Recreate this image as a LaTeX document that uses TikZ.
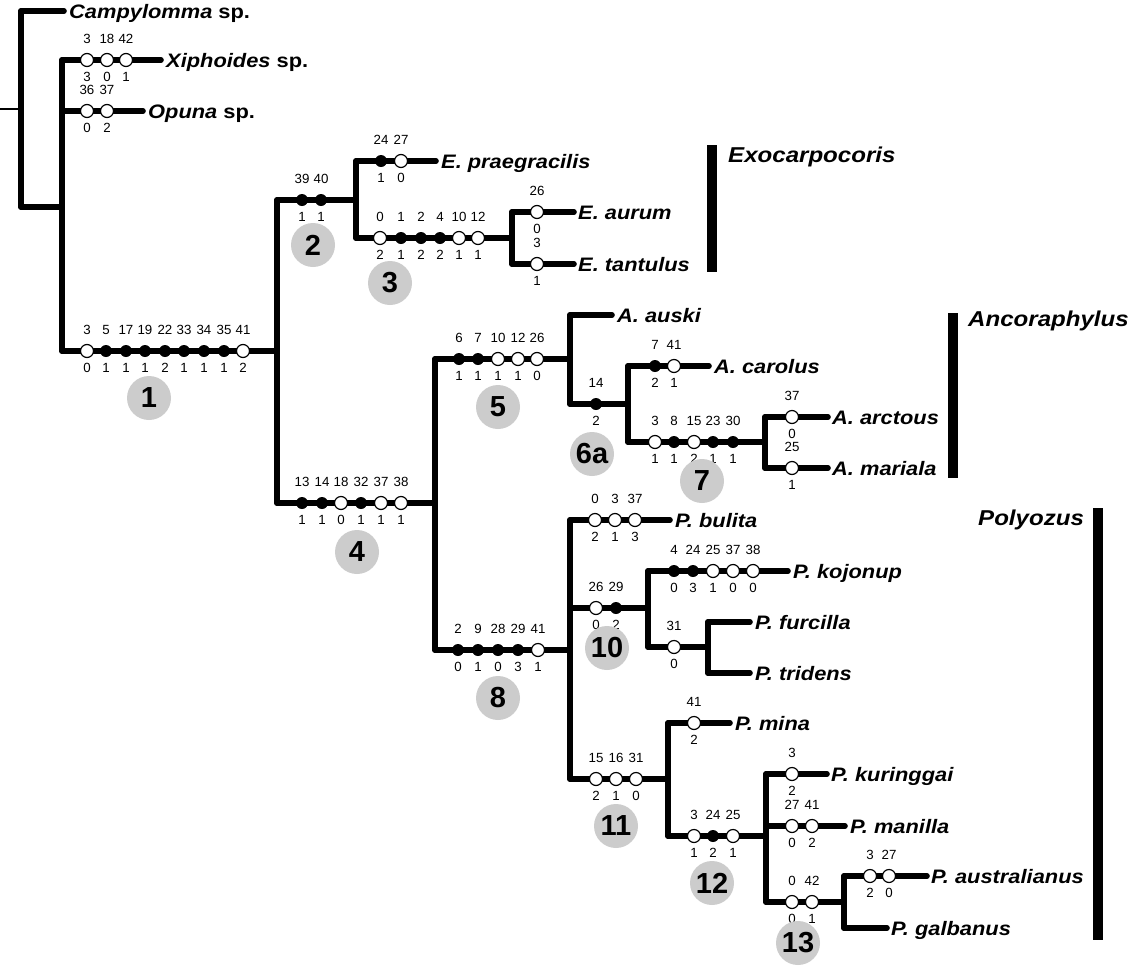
\documentclass[tikz,border=0pt]{standalone}
\usepackage{fontspec}
\setmainfont{Liberation Sans}
\newfontfamily\txf{Liberation Sans}[FakeStretch=1.12]
\newcommand{\charrow}[3]{%
  \foreach \cx/\ct/\ca/\cb [count=\ci] in {#3} {%
    \node[ch=\ct] (#1c\ci) at (\cx,#2) {};
    \node[num] (#1a\ci) at (\cx,#2-16.5) {\ca};
    \node[num] (#1b\ci) at (\cx,#2+21.5) {\cb};
  }}
\begin{document}
\begin{tikzpicture}[x=1pt,y=-1pt,
  br/.style={line width=5.6pt,line cap=round},
  oc/.style={circle,draw=black,fill=white,line width=1.2pt,minimum size=13pt,inner sep=0pt},
  fc/.style={circle,fill=black,minimum size=12pt,inner sep=0pt},
  ch/.code={\ifnum#1=1 \pgfkeysalso{fc}\else\pgfkeysalso{oc}\fi},
  num/.style={font=\fontsize{13.3}{14}\selectfont,anchor=base,inner sep=0pt},
  tax/.style={font=\txf\fontsize{19.5}{20}\selectfont\bfseries\itshape,anchor=base west,inner sep=0pt},
  grp/.style={font=\txf\fontsize{21.5}{22}\selectfont\bfseries\itshape,anchor=base west,inner sep=0pt},
  cl/.style={circle,fill=black!20,minimum size=44pt,inner sep=0pt,font=\fontsize{29}{29}\selectfont\bfseries},
  bar/.style={fill=black}]
\path[use as bounding box] (0,0) rectangle (1133,970);

% ---------- coordinates ----------
\coordinate (rootL) at (0,109);
\coordinate (r) at (21,109);
\coordinate (rT) at (21,11);
\coordinate (rB) at (21,207);
\coordinate (a) at (62,207);
\coordinate (aT) at (62,60);
\coordinate (aM) at (62,111);
\coordinate (aB) at (62,351);
\coordinate (n1) at (277,351);
\coordinate (n1T) at (277,200);
\coordinate (n1B) at (277,503);
\coordinate (n2) at (356,200);
\coordinate (n2T) at (356,161);
\coordinate (n2B) at (356,238);
\coordinate (n3) at (512,238);
\coordinate (n3T) at (512,212);
\coordinate (n3B) at (512,264);
\coordinate (n4) at (435,503);
\coordinate (n4T) at (435,359);
\coordinate (n4B) at (435,650);
\coordinate (n5) at (570,359);
\coordinate (n5T) at (570,315);
\coordinate (n5B) at (570,404);
\coordinate (n6) at (628,404);
\coordinate (n6T) at (628,366);
\coordinate (n6B) at (628,442);
\coordinate (n7) at (765,442);
\coordinate (n7T) at (765,417);
\coordinate (n7B) at (765,468);
\coordinate (n8) at (570,650);
\coordinate (n8T) at (570,520);
\coordinate (n8B) at (570,779);
\coordinate (n8M) at (570,608);
\coordinate (n10) at (648,608);
\coordinate (n10T) at (648,571);
\coordinate (n10B) at (648,647);
\coordinate (n9) at (708,647);
\coordinate (n9T) at (708,622);
\coordinate (n9B) at (708,673);
\coordinate (n11) at (668,779);
\coordinate (n11T) at (668,723);
\coordinate (n11B) at (668,836);
\coordinate (n12) at (766,836);
\coordinate (n12T) at (766,774);
\coordinate (n12M) at (766,826);
\coordinate (n12B) at (766,902);
\coordinate (n13) at (844,902);
\coordinate (n13T) at (844,876);
\coordinate (n13B) at (844,928);
% tips
\coordinate (tCam) at (64,11);
\coordinate (tXip) at (161,60);
\coordinate (tOpu) at (143,111);
\coordinate (tPra) at (436,161);
\coordinate (tAur) at (574,212);
\coordinate (tTan) at (574,264);
\coordinate (tAus) at (612,315);
\coordinate (tCar) at (709,366);
\coordinate (tArc) at (828,417);
\coordinate (tMar) at (828,468);
\coordinate (tBul) at (670,520);
\coordinate (tKoj) at (788,571);
\coordinate (tFur) at (750,622);
\coordinate (tTri) at (750,673);
\coordinate (tMin) at (730,723);
\coordinate (tKur) at (827,774);
\coordinate (tMan) at (845,826);
\coordinate (tAul) at (927,876);
\coordinate (tGal) at (887,928);

% ---------- branches ----------
\draw[line width=1.2pt] (rootL) -- (r);
\draw[br] (rT) -- (rB);
\draw[br] (rT) -- (tCam);
\draw[br] (rB) -- (a);
\draw[br] (aT) -- (aB);
\draw[br] (aT) -- (tXip);
\draw[br] (aM) -- (tOpu);
\draw[br] (aB) -- (n1);
\draw[br] (n1T) -- (n1B);
\draw[br] (n1T) -- (n2);
\draw[br] (n2T) -- (n2B);
\draw[br] (n2T) -- (tPra);
\draw[br] (n2B) -- (n3);
\draw[br] (n3T) -- (n3B);
\draw[br] (n3T) -- (tAur);
\draw[br] (n3B) -- (tTan);
\draw[br] (n1B) -- (n4);
\draw[br] (n4T) -- (n4B);
\draw[br] (n4T) -- (n5);
\draw[br] (n5T) -- (n5B);
\draw[br] (n5T) -- (tAus);
\draw[br] (n5B) -- (n6);
\draw[br] (n6T) -- (n6B);
\draw[br] (n6T) -- (tCar);
\draw[br] (n6B) -- (n7);
\draw[br] (n7T) -- (n7B);
\draw[br] (n7T) -- (tArc);
\draw[br] (n7B) -- (tMar);
\draw[br] (n4B) -- (n8);
\draw[br] (n8T) -- (n8B);
\draw[br] (n8T) -- (tBul);
\draw[br] (n8M) -- (n10);
\draw[br] (n10T) -- (n10B);
\draw[br] (n10T) -- (tKoj);
\draw[br] (n10B) -- (n9);
\draw[br] (n9T) -- (n9B);
\draw[br] (n9T) -- (tFur);
\draw[br] (n9B) -- (tTri);
\draw[br] (n8B) -- (n11);
\draw[br] (n11T) -- (n11B);
\draw[br] (n11T) -- (tMin);
\draw[br] (n11B) -- (n12);
\draw[br] (n12T) -- (n12B);
\draw[br] (n12T) -- (tKur);
\draw[br] (n12M) -- (tMan);
\draw[br] (n12B) -- (n13);
\draw[br] (n13T) -- (n13B);
\draw[br] (n13T) -- (tAul);
\draw[br] (n13B) -- (tGal);

% ---------- characters ----------
\charrow{xi}{60}{87/0/3/3, 107/0/18/0, 126/0/42/1}
\charrow{op}{111}{87/0/36/0, 107/0/37/2}
\charrow{ka}{351}{87/0/3/0, 106/1/5/1, 126/1/17/1, 145/1/19/1, 165/1/22/2, 184/1/33/1, 204/1/34/1, 224/1/35/1, 243/0/41/2}
\charrow{kb}{200}{302/1/39/1, 321/1/40/1}
\charrow{pr}{161}{381/1/24/1, 401/0/27/0}
\charrow{kc}{238}{380/0/0/2, 401/1/1/1, 421/1/2/2, 440/1/4/2, 459/0/10/1, 478/0/12/1}
\charrow{au}{212}{537/0/26/0}
\charrow{ta}{264}{537/0/3/1}
\charrow{kd}{503}{302/1/13/1, 322/1/14/1, 341/0/18/0, 361/1/32/1, 381/0/37/1, 401/0/38/1}
\charrow{ke}{359}{459/1/6/1, 478/1/7/1, 498/0/10/1, 518/0/12/1, 537/0/26/0}
\charrow{kf}{404}{596/1/14/2}
\charrow{ca}{366}{655/1/7/2, 674/0/41/1}
\charrow{kg}{442}{655/0/3/1, 674/1/8/1, 694/0/15/2, 713/1/23/1, 733/1/30/1}
\charrow{ar}{417}{792/0/37/0}
\charrow{ma}{468}{792/0/25/1}
\charrow{kh}{650}{458/1/2/0, 478/1/9/1, 498/1/28/0, 518/1/29/3, 538/0/41/1}
\charrow{bu}{520}{595/0/0/2, 615/0/3/1, 635/0/37/3}
\charrow{kj}{608}{596/0/26/0, 616/1/29/2}
\charrow{ko}{571}{674/1/4/0, 693/1/24/3, 713/0/25/1, 733/0/37/0, 753/0/38/0}
\charrow{fu}{647}{674/0/31/0}
\charrow{kk}{779}{596/0/15/2, 616/0/16/1, 636/0/31/0}
\charrow{mi}{723}{694/0/41/2}
\charrow{kl}{836}{694/0/3/1, 713/1/24/2, 733/0/25/1}
\charrow{ku}{774}{792/0/3/2}
\charrow{mn}{826}{792/0/27/0, 812/0/41/2}
\charrow{km}{902}{792/0/0/0, 812/0/42/1}
\charrow{al}{876}{870/0/3/2, 889/0/27/0}

% ---------- taxa ----------
\node[tax] (lCam) at (69,18) {Campylomma\upshape{} sp.};
\node[tax] (lXip) at (166,67) {Xiphoides\upshape{} sp.};
\node[tax] (lOpu) at (148,118) {Opuna\upshape{} sp.};
\node[tax] (lPra) at (441,168) {E. praegracilis};
\node[tax] (lAur) at (578,219) {E. aurum};
\node[tax] (lTan) at (578,271) {E. tantulus};
\node[tax] (lAus) at (617,322) {A. auski};
\node[tax] (lCar) at (714,373) {A. carolus};
\node[tax] (lArc) at (832,424) {A. arctous};
\node[tax] (lMar) at (832,475) {A. mariala};
\node[tax] (lBul) at (675,527) {P. bulita};
\node[tax] (lKoj) at (793,578) {P. kojonup};
\node[tax] (lFur) at (755,629) {P. furcilla};
\node[tax] (lTri) at (755,680) {P. tridens};
\node[tax] (lMin) at (735,730) {P. mina};
\node[tax] (lKur) at (831,781) {P. kuringgai};
\node[tax] (lMan) at (850,833) {P. manilla};
\node[tax] (lAul) at (931,883) {P. australianus};
\node[tax] (lGal) at (891,935) {P. galbanus};

% ---------- clade numbers ----------
\node[cl] (c1) at (149,398) {1};
\node[cl] (c2) at (313,245) {2};
\node[cl] (c3) at (390,283) {3};
\node[cl] (c4) at (357,552) {4};
\node[cl] (c5) at (498,407) {5};
\node[cl] (c6) at (592,454) {6a};
\node[cl] (c7) at (702,481) {7};
\node[cl] (c8) at (498,698) {8};
\node[cl] (c10) at (607,648) {10};
\node[cl] (c11) at (616,826) {11};
\node[cl] (c12) at (712,883) {12};
\node[cl] (c13) at (798,943) {13};

% ---------- genus bars ----------
\fill[bar] (707,145) rectangle (717,272);
\node[grp] (gExo) at (728,162) {Exocarpocoris};
\fill[bar] (948,313) rectangle (958,478);
\node[grp] (gAnc) at (968,326) {Ancoraphylus};
\fill[bar] (1093,508) rectangle (1103,940);
\node[grp] (gPol) at (978,525) {Polyozus};
\end{tikzpicture}
\end{document}
